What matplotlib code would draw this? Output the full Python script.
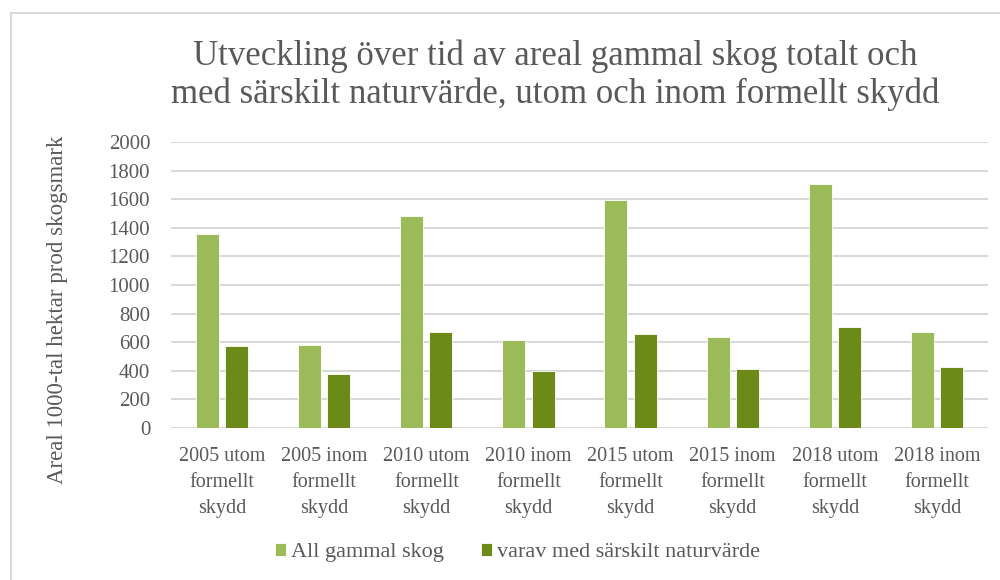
import numpy as np
import matplotlib
matplotlib.use('Agg')
import matplotlib.pyplot as plt
from matplotlib.patches import Rectangle

categories = [
    '2005 utom\nformellt\nskydd',
    '2005 inom\nformellt\nskydd',
    '2010 utom\nformellt\nskydd',
    '2010 inom\nformellt\nskydd',
    '2015 utom\nformellt\nskydd',
    '2015 inom\nformellt\nskydd',
    '2018 utom\nformellt\nskydd',
    '2018 inom\nformellt\nskydd',
]
all_gammal = [1360, 580, 1485, 615, 1595, 640, 1710, 675]
varav_natur = [575, 380, 675, 400, 655, 410, 705, 430]
yticks = list(range(0, 2001, 200))
title_lines = ['Utveckling över tid av areal gammal skog totalt och',
               'med särskilt naturvärde, utom och inom formellt skydd']

light = '#9bbb59'
dark = '#6b8a17'
textc = '#595959'

plt.rcParams['font.family'] = ['Liberation Serif', 'DejaVu Serif']

fig = plt.figure(figsize=(10, 5.8), dpi=100)
ax = fig.add_axes([0.171, 0.262, 0.817, 0.493])

x = np.arange(len(categories))
w = 0.225
ax.bar(x - 0.143, all_gammal, width=w, color=light, edgecolor='white', linewidth=0.6,
       label='All gammal skog', zorder=3)
ax.bar(x + 0.143, varav_natur, width=w, color=dark, edgecolor='white', linewidth=0.6,
       label='varav med särskilt naturvärde', zorder=3)

ax.set_xlim(-0.5, len(categories) - 0.5)
ax.set_ylim(0, 2000)
ax.set_yticks(yticks)
ax.set_yticklabels([str(v) for v in yticks], fontsize=15, color=textc)
ax.set_xticks(x)
ax.set_xticklabels(categories, fontsize=14.5, color=textc, linespacing=1.48)
ax.tick_params(axis='both', length=0)
ax.tick_params(axis='y', pad=15)
ax.tick_params(axis='x', pad=14)
ax.grid(axis='y', color='#d9d9d9', linewidth=1.5, zorder=0)
for s in ax.spines.values():
    s.set_visible(False)

fig.text(0.058, 1 - 310 / 580, 'Areal 1000-tal hektar prod skogsmark', rotation=90,
         ha='center', va='center', fontsize=16.5, color=textc)

fig.text(0.555, 1 - 65 / 580, title_lines[0], ha='center', va='baseline',
         fontsize=25, color=textc)
fig.text(0.555, 1 - 103 / 580, title_lines[1], ha='center', va='baseline',
         fontsize=25, color=textc)

handles, labels = ax.get_legend_handles_labels()
leg = fig.legend(handles, labels, loc='center', bbox_to_anchor=(0.5175, 0.047), ncol=2,
                 frameon=False, fontsize=16, handlelength=0.5, handleheight=0.5,
                 handletextpad=0.2, columnspacing=1.7, borderaxespad=0)
for t in leg.get_texts():
    t.set_color(textc)

fig.patches.append(Rectangle((0.011, -0.1), 1.2, 1.078, transform=fig.transFigure,
                             fill=False, edgecolor='#d9d9d9', linewidth=1.5))

fig.savefig('out.png', dpi=100)
